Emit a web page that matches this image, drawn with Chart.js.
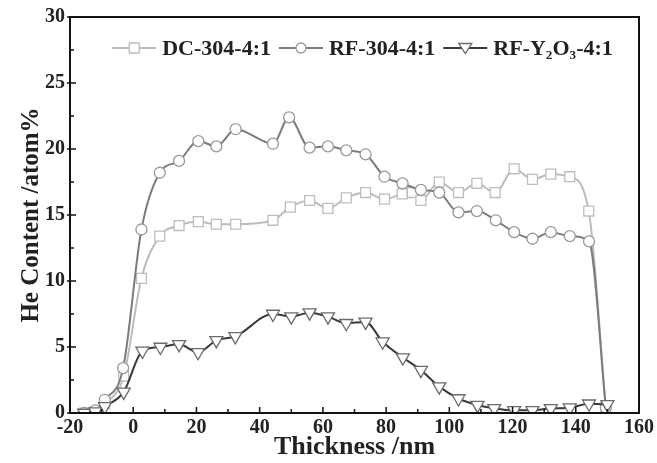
<!DOCTYPE html>
<html>
<head>
<meta charset="utf-8">
<script src="https://cdn.jsdelivr.net/npm/chart.js@4.4.1/dist/chart.umd.min.js"></script>
<style>
  html, body { margin: 0; padding: 0; background: #fff; }
  #wrap { width: 657px; height: 463px; }
</style>
</head>
<body>
<div id="wrap"><canvas id="chart"></canvas></div>
<script>
var seriesNames = ['DC-304-4:1', 'RF-304-4:1', 'RF-Y\u2082O\u2083-4:1'];

var thicknessDC = [-15.5, -12, -9, -3, 2.6, 8.4, 14.5, 20.6, 26.3, 32.4, 44.2, 49.7, 55.8, 61.6, 67.4,
                   73.5, 79.5, 85.1, 88.3, 91, 96.8, 102.9, 108.7, 114.5, 120.5, 126.3, 132.1, 138.1, 144.1, 149.5];
var contentDC = [0, 0.1, 0.7, 2.8, 10.2, 13.4, 14.2, 14.5, 14.3, 14.3, 14.6, 15.6, 16.1, 15.5, 16.3,
                 16.7, 16.2, 16.6, 16.7, 16.1, 17.5, 16.7, 17.4, 16.7, 18.5, 17.7, 18.1, 17.9, 15.3, 0.4];

var thicknessRF = [-15.5, -12, -9, -3.2, 2.6, 8.4, 14.5, 20.6, 26.3, 32.4, 44.2, 49.3, 55.8, 61.6, 67.4,
                   73.5, 79.5, 85.2, 91, 96.8, 102.9, 108.7, 114.7, 120.5, 126.3, 132.1, 138.1, 144.2, 149.5];
var contentRF = [0, 0.2, 1.0, 3.4, 13.9, 18.2, 19.1, 20.6, 20.2, 21.5, 20.4, 22.4, 20.1, 20.2, 19.9,
                 19.6, 17.9, 17.4, 16.9, 16.7, 15.2, 15.3, 14.6, 13.7, 13.2, 13.7, 13.4, 13.0, 0.4];

var thicknessY = [-15.5, -12, -9, -3, 2.9, 8.6, 14.5, 20.5, 26.3, 32.3, 44.2, 50, 55.8, 61.6, 67.4,
                  73.5, 78.9, 85.3, 91, 96.8, 102.9, 108.9, 114.2, 120.5, 126.3, 132.1, 138.1, 144.2, 150];
var contentY = [0, 0.1, 0.5, 1.6, 4.7, 5.0, 5.2, 4.6, 5.5, 5.8, 7.5, 7.3, 7.6, 7.3, 6.8,
                6.9, 5.4, 4.2, 3.25, 2.0, 1.1, 0.6, 0.35, 0.2, 0.2, 0.35, 0.4, 0.7, 0.65];

var xTicks = [-20, 0, 20, 40, 60, 80, 100, 120, 140, 160];
var yTicks = [0, 5, 10, 15, 20, 25, 30];

var lineColors = ['#bcbcbc', '#7c7c7c', '#3a3a3a'];
var markColors = ['#bdbdbd', '#999999', '#6a6a6a'];
var shapes = ['rect', 'circle', 'triangle'];

var serif = '"Liberation Serif", "Times New Roman", serif';

function toPoints(xs, ys) {
  var pts = [];
  for (var i = 0; i < xs.length; i++) pts.push({x: xs[i], y: ys[i]});
  return pts;
}

function drawMarker(g, i, cx, cy) {
  g.fillStyle = '#fff';
  g.strokeStyle = markColors[i];
  g.lineWidth = 1.3;
  g.beginPath();
  if (i === 0) g.rect(cx - 5, cy - 5, 10, 10);
  else if (i === 1) g.arc(cx, cy, 5, 0, Math.PI * 2);
  else { g.moveTo(cx - 6.5, cy - 4.5); g.lineTo(cx + 6.5, cy - 4.5); g.lineTo(cx, cy + 5.5); g.closePath(); }
  g.fill(); g.stroke();
}

// legend inside the plot box, one row
var innerLegend = {
  id: 'innerLegend',
  afterDraw: function(chart) {
    var ctx = chart.ctx, a = chart.chartArea;
    ctx.save();
    ctx.font = 'bold 22px ' + serif;
    ctx.textBaseline = 'middle';
    var iconW = 44, gapIn = 6, gapOut = 8;
    var total = 0;
    seriesNames.forEach(function(n, i) {
      total += iconW + gapIn + ctx.measureText(n).width + (i < seriesNames.length - 1 ? gapOut : 0);
    });
    var x = (a.left + a.right) / 2 + 8 - total / 2;
    var y = a.top + 31;
    seriesNames.forEach(function(n, i) {
      ctx.strokeStyle = lineColors[i];
      ctx.lineWidth = 2;
      ctx.beginPath(); ctx.moveTo(x, y); ctx.lineTo(x + iconW, y); ctx.stroke();
      drawMarker(ctx, i, x + iconW / 2, y);
      x += iconW + gapIn;
      ctx.fillStyle = '#222';
      ctx.fillText(n, x, y + 1);
      x += ctx.measureText(n).width + gapOut;
    });
    ctx.restore();
  }
};

var frameTicks = {
  id: 'frameTicks',
  afterDraw: function(chart) {
    var ctx = chart.ctx, a = chart.chartArea;
    var xs = chart.scales.x, ys = chart.scales.y;
    ctx.save();
    ctx.strokeStyle = '#111';
    ctx.lineWidth = 1.5;
    ctx.beginPath();
    for (var v = -20; v <= 160; v += 10) {
      var px = xs.getPixelForValue(v);
      var len = (v % 20 === 0) ? 6 : 4;
      ctx.moveTo(px, a.bottom); ctx.lineTo(px, a.bottom - len);
    }
    for (var w = 0; w <= 30; w += 2.5) {
      var py = ys.getPixelForValue(w);
      var len2 = (w % 5 === 0) ? 6 : 4;
      ctx.moveTo(a.left - (w % 5 === 0 ? 3 : 0), py); ctx.lineTo(a.left + len2, py);
    }
    ctx.stroke();
    ctx.lineWidth = 2;
    ctx.strokeRect(a.left, a.top, a.right - a.left, a.bottom - a.top);
    ctx.restore();
  }
};

var datasets = [
  {label: seriesNames[0], data: toPoints(thicknessDC, contentDC), order: 3},
  {label: seriesNames[1], data: toPoints(thicknessRF, contentRF), order: 2},
  {label: seriesNames[2], data: toPoints(thicknessY, contentY), order: 1}
];
datasets.forEach(function(d, i) {
  d.borderColor = lineColors[i];
  d.borderWidth = 2;
  d.cubicInterpolationMode = 'monotone';
  d.pointStyle = shapes[i];
  d.pointRotation = i === 2 ? 180 : 0;
  d.pointRadius = i === 0 ? 7 : (i === 1 ? 5.5 : 7.5);
  d.pointBackgroundColor = '#fff';
  d.pointBorderColor = markColors[i];
  d.pointBorderWidth = 1.3;
  d.showLine = true;
  d.fill = false;
});

new Chart(document.getElementById('chart'), {
  type: 'scatter',
  data: {datasets: datasets},
  plugins: [frameTicks, innerLegend],
  options: {
    responsive: true,
    maintainAspectRatio: false,
    animation: false,
    layout: {padding: {top: 16, right: 17, left: 0, bottom: 0}},
    plugins: {
      tooltip: {enabled: false},
      legend: {display: false}
    },
    scales: {
      x: {
        type: 'linear',
        min: -20, max: 160,
        afterFit: function(s) { s.height = 50; },
        afterBuildTicks: function(s) { s.ticks = xTicks.map(function(v) { return {value: v}; }); },
        grid: {display: false, drawTicks: false},
        border: {display: false},
        ticks: {color: '#222', padding: 3, maxRotation: 0, font: {family: serif, size: 20, weight: 'bold'}},
        title: {display: true, text: 'Thickness /nm', color: '#222', padding: {top: 0, bottom: 0},
                font: {family: serif, size: 26, weight: 'bold'}}
      },
      y: {
        type: 'linear',
        min: 0, max: 30,
        afterFit: function(s) { s.width = 70; },
        afterBuildTicks: function(s) { s.ticks = yTicks.map(function(v) { return {value: v}; }); },
        grid: {display: false, drawTicks: false},
        border: {display: false},
        ticks: {color: '#222', padding: 5, font: {family: serif, size: 20, weight: 'bold'}},
        title: {display: true, text: 'He Content /atom%', color: '#222', padding: {top: 17, bottom: 0},
                font: {family: serif, size: 25, weight: 'bold'}}
      }
    }
  }
});
</script>
</body>
</html>
